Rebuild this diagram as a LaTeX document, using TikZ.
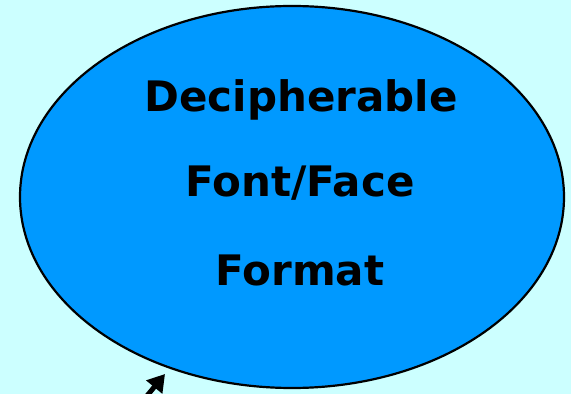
\documentclass[tikz,border=0pt]{standalone}
\usepackage{fontspec}
\setmainfont{DejaVu Sans}
\usetikzlibrary{shapes.geometric,arrows.meta}
\definecolor{paleaqua}{HTML}{CCFFFF}
\definecolor{skyblue}{HTML}{0099FF}
\tikzset{
  blob/.style={ellipse, draw=black, line width=2.2pt, fill=skyblue, inner sep=0pt},
  label/.style={anchor=base, inner sep=0pt, font=\fontsize{42}{50}\selectfont\bfseries},
  pointer/.style={line width=5pt, -{Triangle[length=17pt,width=20pt]}}
}
\begin{document}
\begin{tikzpicture}[x=1pt,y=1pt]
  \useasboundingbox (0,0) rectangle (571,394);
  \clip (0,0) rectangle (571,394);
  \fill[paleaqua] (0,0) rectangle (571,394);
  % main oval
  \node[blob, minimum width=544pt, minimum height=382pt] (oval) at (292,197) {};
  % three lines of text
  \node[label] (t1) at (301,282) {Decipherable};
  \node[label] (t2) at (300,197) {Font/Face};
  \node[label] (t3) at (300,108) {Format};
  % arrow coming up from below
  \coordinate (tail) at (132,-20);
  \coordinate (tip) at (165,20);
  \draw[pointer] (tail) -- (tip);
\end{tikzpicture}
\end{document}
